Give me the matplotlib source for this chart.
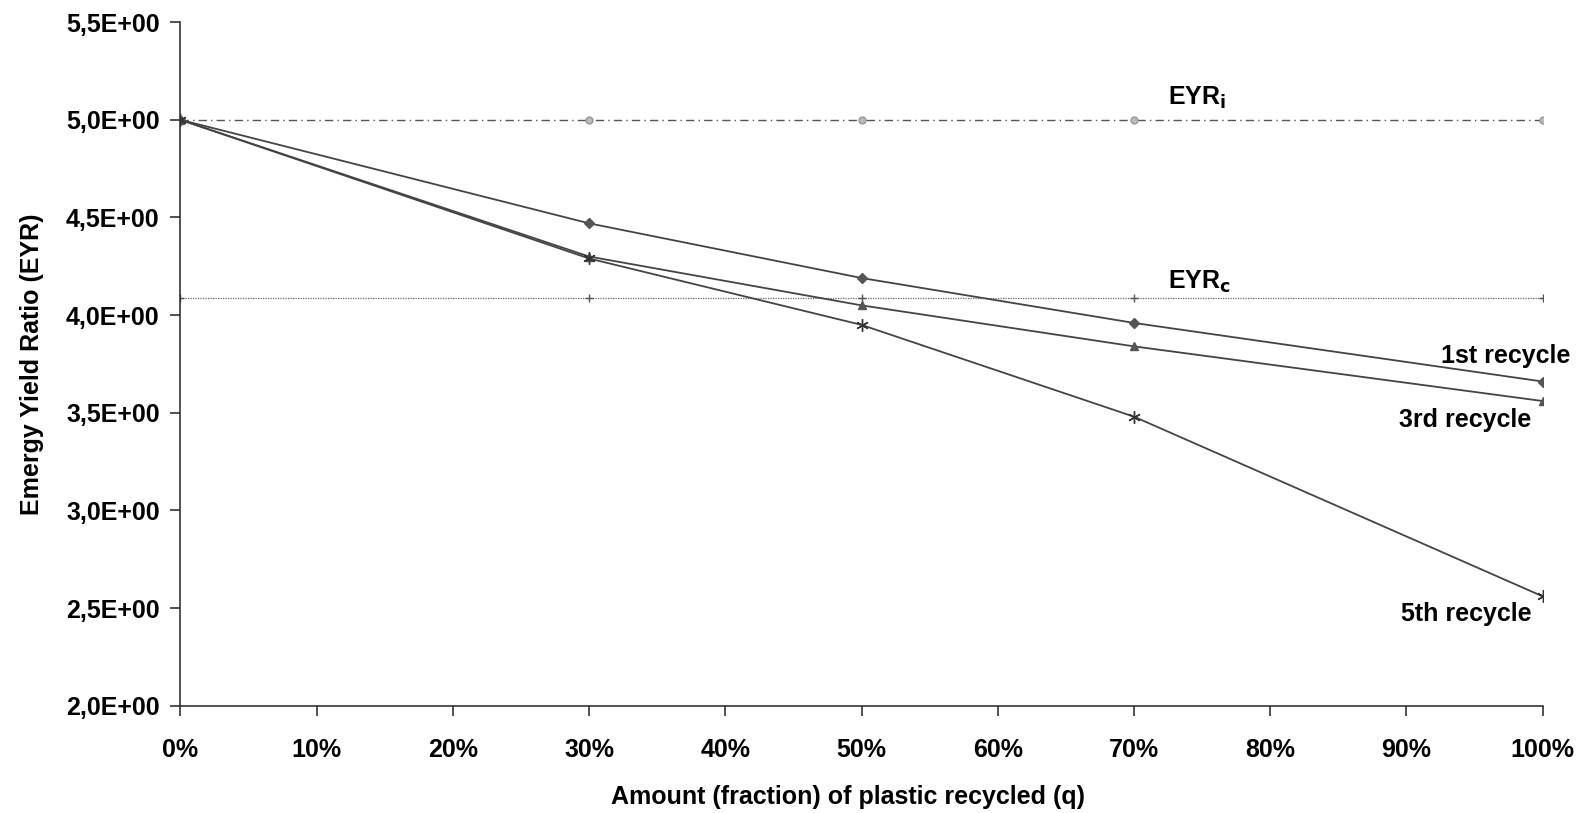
import matplotlib
matplotlib.use("Agg")
import matplotlib.pyplot as plt
from matplotlib.ticker import FuncFormatter, PercentFormatter

q = [0.0, 0.3, 0.5, 0.7, 1.0]
eyr_1st = [5.0, 4.47, 4.19, 3.96, 3.66]
eyr_3rd = [5.0, 4.30, 4.05, 3.84, 3.56]
eyr_5th = [5.0, 4.29, 3.95, 3.48, 2.56]
eyr_i = [5.0, 5.0, 5.0, 5.0, 5.0]
eyr_c = [4.09, 4.09, 4.09, 4.09, 4.09]

plt.rcParams['font.family'] = ['Liberation Sans', 'DejaVu Sans']
plt.rcParams['font.weight'] = 'bold'

fig = plt.figure(figsize=(15.83, 8.13), dpi=100)
ax = fig.add_axes([0.114, 0.132, 0.8605, 0.8407])

lc = '#444444'
ax.plot(q, eyr_i, color='#555555', lw=1.0, ls=(0, (6, 3, 1, 3)), marker='o', ms=5,
        mfc='#bbbbbb', mec='#999999', zorder=2)
ax.plot(q, eyr_c, color='#666666', lw=0.9, ls=(0, (1, 1)), marker='+', ms=6,
        mec='#555555', zorder=2)
ax.plot(q, eyr_1st, color=lc, lw=1.3, marker='D', ms=5, mfc='#555555', mec='#555555', zorder=3)
ax.plot(q, eyr_3rd, color=lc, lw=1.3, marker='^', ms=6, mfc='#555555', mec='#555555', zorder=3)
ax.plot(q, eyr_5th, color=lc, lw=1.3, marker=(6, 2, 0), ms=9, mec='#333333', mew=1.0, zorder=3)

ax.set_xlim(0, 1)
ax.set_ylim(2.0, 5.5)
ax.set_xticks([i / 10 for i in range(11)])
ax.set_yticks([2.0, 2.5, 3.0, 3.5, 4.0, 4.5, 5.0, 5.5])
ax.xaxis.set_major_formatter(PercentFormatter(1.0, decimals=0))
ax.yaxis.set_major_formatter(FuncFormatter(lambda v, p: f"{v:.1E}".replace('.', ',')))
ax.tick_params(axis='both', direction='out', length=7, width=1.2, colors='#333333',
               labelsize=18, labelcolor='black')
ax.tick_params(axis='x', pad=16)
ax.tick_params(axis='y', pad=8)
for s in ['top', 'right']:
    ax.spines[s].set_visible(False)
for s in ['left', 'bottom']:
    ax.spines[s].set_color('#333333')
    ax.spines[s].set_linewidth(1.2)

ax.set_ylabel('Emergy Yield Ratio (EYR)', fontsize=18, fontweight='bold', labelpad=16)
ax.set_xlabel('Amount (fraction) of plastic recycled (q)', fontsize=18, fontweight='bold')
ax.xaxis.set_label_coords(0.49, -0.116)

ax.text(0.725, 5.11, r'EYR$_\mathbf{i}$', fontsize=18, fontweight='bold', ha='left', va='center')
ax.text(0.725, 4.17, r'EYR$_\mathbf{c}$', fontsize=18, fontweight='bold', ha='left', va='center')
ax.text(1.02, 3.79, '1st recycle', fontsize=18, fontweight='bold', ha='right', va='center')
ax.text(0.992, 3.465, '3rd recycle', fontsize=18, fontweight='bold', ha='right', va='center')
ax.text(0.992, 2.47, '5th recycle', fontsize=18, fontweight='bold', ha='right', va='center')

fig.savefig('out.png', dpi=100)
